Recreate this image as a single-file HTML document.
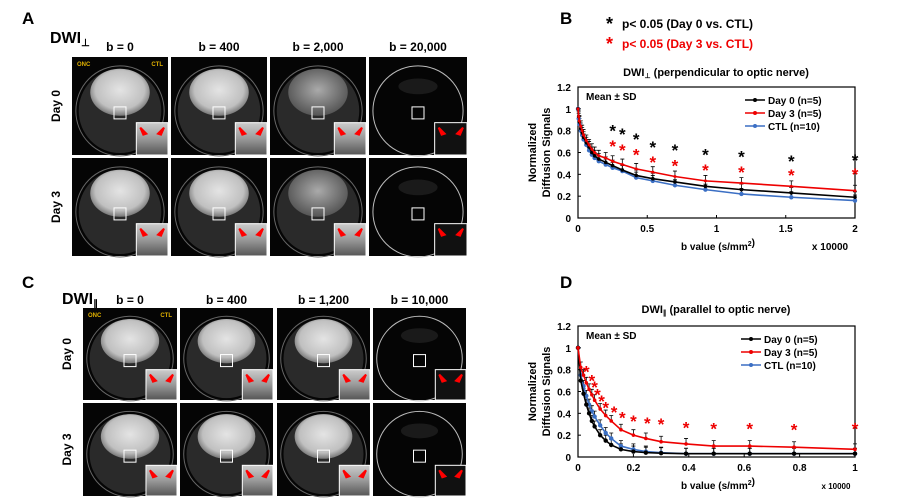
<!DOCTYPE html>
<html><head><meta charset="utf-8"><style>
body{margin:0;background:#fff;}
svg{display:block;font-family:"Liberation Sans",Arial,sans-serif;font-weight:bold;}
</style></head><body>
<svg id="s" width="898" height="498" viewBox="0 0 898 498">
<defs>
<radialGradient id="brain" cx="50%" cy="45%" r="55%"><stop offset="0" stop-color="#e4e4e4"/><stop offset="0.75" stop-color="#c0c0c0"/><stop offset="1" stop-color="#777"/></radialGradient>
<radialGradient id="brainDim" cx="50%" cy="45%" r="55%"><stop offset="0" stop-color="#aaa"/><stop offset="1" stop-color="#555"/></radialGradient>
<linearGradient id="inset" x1="0" y1="0" x2="0" y2="1"><stop offset="0" stop-color="#ccc"/><stop offset="0.5" stop-color="#999"/><stop offset="1" stop-color="#555"/></linearGradient>
</defs>
<g id="texts">
<text x="22" y="24" font-size="17">A</text>
<text x="50" y="43" font-size="16">DWI<tspan font-size="10" dy="3">⊥</tspan></text>
<text x="22" y="288" font-size="17">C</text>
<text x="62" y="304" font-size="16">DWI<tspan font-size="10" dy="3">∥</tspan></text>
<text x="560" y="24" font-size="17">B</text>
<text x="560" y="288" font-size="17">D</text>
<text x="606" y="30" font-size="18">*</text>
<text x="622" y="28" font-size="12">p&lt; 0.05 (Day 0 vs. CTL)</text>
<text x="606" y="50" font-size="18" fill="#e00">*</text>
<text x="622" y="48" font-size="12" fill="#e00">p&lt; 0.05 (Day 3 vs. CTL)</text>
<text x="716" y="76" font-size="11" text-anchor="middle">DWI<tspan font-size="7" dy="2">⊥</tspan><tspan dy="-2"> (perpendicular to optic nerve)</tspan></text>
<text x="716" y="313" font-size="11" text-anchor="middle">DWI<tspan font-size="7" dy="2">∥</tspan><tspan dy="-2"> (parallel to optic nerve)</tspan></text>
</g>
</svg>
<script>
const NS='http://www.w3.org/2000/svg';
const svg=document.getElementById('s');
function mk(tag,attrs,parent){const e=document.createElementNS(NS,tag);for(const k in attrs)e.setAttribute(k,attrs[k]);(parent||svg).appendChild(e);return e;}
function txt(x,y,s,attrs,parent){const e=mk('text',Object.assign({x:x,y:y},attrs||{}),parent);e.textContent=s;return e;}

function grid(cols,rows,bLabels,dayLabelX,labelY,dim){
  rows.forEach((r,ri)=>{
    const t=txt(dayLabelX,(r[0]+r[1])/2,ri?'Day 3':'Day 0',{'font-size':12,'text-anchor':'middle',transform:`rotate(-90 ${dayLabelX} ${(r[0]+r[1])/2})`});
    
    
    cols.forEach((c,ci)=>{
      const g=mk('g',{});
      
      
      const w=c[1]-c[0],h=r[1]-r[0];
      mk('rect',{x:c[0],y:r[0],width:w,height:h,fill:'#050505'},g);
      const cx=c[0]+w/2,cy=r[0]+h*0.55;
      mk('ellipse',{cx:cx,cy:cy,rx:w*0.46,ry:h*0.46,fill:'none',stroke:ci==3?'#bbb':'#666','stroke-width':1},g);
      if(ci<3){
        mk('ellipse',{cx:cx,cy:cy,rx:w*0.43,ry:h*0.43,fill:'#2a2a2a'},g);
        mk('ellipse',{cx:cx,cy:r[0]+h*0.36,rx:w*0.31,ry:h*0.24,fill:ci==2&&dim?'url(#brainDim)':'url(#brain)'},g);
      } else {
        mk('ellipse',{cx:cx,cy:r[0]+h*0.3,rx:w*0.2,ry:h*0.08,fill:'#1a1a1a'},g);
      }
      mk('rect',{x:cx-6,y:cy-4,width:12,height:12,fill:'none',stroke:'#fff','stroke-width':1},g);
      const iw=w*0.33,ih=h*0.33;
      mk('rect',{x:c[1]-iw,y:r[1]-ih,width:iw,height:ih,fill:ci==3?'#111':'url(#inset)',stroke:'#fff','stroke-width':1},g);
      mk('path',{d:`M${c[1]-iw+4} ${r[1]-ih+5} l6 6 l-3 1 z M${c[1]-4} ${r[1]-ih+5} l-6 6 l3 1 z`,fill:'#f00',stroke:'#f00','stroke-width':2},g);
      if(ri==0&&ci==0){txt(c[0]+5,r[0]+9,'ONC',{'font-size':6,fill:'#e0b000'},g);txt(c[1]-5,r[0]+9,'CTL',{'font-size':6,fill:'#e0b000','text-anchor':'end'},g);}
    });
  });
  cols.forEach((c,ci)=>{const t=txt((c[0]+c[1])/2,labelY,bLabels[ci],{'font-size':12,'text-anchor':'middle'});
    
    });
}
grid([[72,168],[171,267],[270,366],[369,467]],[[57,155],[158,256]],['b = 0','b = 400','b = 2,000','b = 20,000'],60,51,true);
grid([[83,177],[180,273],[277,370],[373,466]],[[308,400],[403,496]],['b = 0','b = 400','b = 1,200','b = 10,000'],71,304,false);

const bX=[0,0.005,0.01,0.02,0.03,0.04,0.06,0.08,0.1,0.12,0.15,0.2,0.25,0.32,0.42,0.54,0.7,0.92,1.18,1.54,2];
const bDay0=[1,0.93,0.88,0.82,0.78,0.74,0.69,0.65,0.6,0.57,0.54,0.51,0.48,0.44,0.39,0.36,0.33,0.29,0.26,0.23,0.19];
const bDay3=[1,0.93,0.89,0.84,0.8,0.76,0.71,0.67,0.63,0.6,0.57,0.55,0.52,0.49,0.45,0.42,0.38,0.34,0.32,0.29,0.25];
const bCTL=[1,0.91,0.86,0.8,0.76,0.72,0.67,0.62,0.58,0.55,0.52,0.49,0.46,0.43,0.37,0.34,0.3,0.26,0.22,0.19,0.16];
const bSD=[0.05];
const bStarX=[0.25,0.32,0.42,0.54,0.7,0.92,1.18,1.54,2];
const bStarBlack=[0.82,0.79,0.74,0.67,0.64,0.6,0.58,0.54,0.55];
const bStarRed=[0.68,0.64,0.6,0.53,0.5,0.46,0.44,0.41,0.42];
const bXTicks=['0','0.5','1','1.5','2'];
const yTicks=['0','0.2','0.4','0.6','0.8','1','1.2'];
const dX=[0,0.01,0.02,0.03,0.04,0.05,0.06,0.08,0.1,0.12,0.155,0.2,0.245,0.3,0.39,0.49,0.62,0.78,1.0];
const dDay0=[1,0.7,0.58,0.48,0.4,0.33,0.28,0.2,0.15,0.11,0.07,0.05,0.04,0.035,0.03,0.03,0.03,0.03,0.03];
const dDay3=[1,0.82,0.75,0.68,0.62,0.57,0.52,0.44,0.38,0.33,0.25,0.2,0.17,0.14,0.12,0.1,0.1,0.09,0.07];
const dCTL=[1,0.75,0.65,0.56,0.48,0.42,0.37,0.29,0.22,0.17,0.1,0.07,0.05,0.04,0.03,0.03,0.03,0.03,0.03];
const dSD=[0.05];
const dStarX=[0.03,0.05,0.06,0.07,0.085,0.1,0.13,0.16,0.2,0.25,0.3,0.39,0.49,0.62,0.78,1.0];
const dStarRed=[0.8,0.72,0.66,0.59,0.53,0.47,0.43,0.38,0.35,0.33,0.32,0.29,0.28,0.28,0.27,0.28];
const dXTicks=['0','0.2','0.4','0.6','0.8','1'];

function chart(o){
  const L=578,R=855,T=o.top,B=o.top+131;
  const xs=v=>L+(v/o.xmax)*(R-L), ys=v=>B-(v/1.2)*(B-T);
  const g=mk('g',{});
  
  
  mk('rect',{x:L,y:T,width:R-L,height:B-T,fill:'none',stroke:'#000','stroke-width':1.2},g);
  yTicks.forEach(t=>{const y=ys(+t);mk('line',{x1:L,x2:L+3,y1:y,y2:y,stroke:'#000'},g);
    const e=txt(L-7,y+4,t,{'font-size':10,'text-anchor':'end'},g);
    
    });
  o.xticks.forEach(t=>{const x=xs(+t);mk('line',{x1:x,x2:x,y1:B,y2:B-3,stroke:'#000'},g);
    const e=txt(x,B+14,t,{'font-size':10,'text-anchor':'middle'},g);
    
    });
  const yt=mk('text',{x:0,y:0,'font-size':11,'text-anchor':'middle',transform:`translate(536 ${(T+B)/2}) rotate(-90)`},g);
  
  
  yt.innerHTML='<tspan x="0" dy="0">Normalized</tspan><tspan x="0" dy="14">Diffusion Signals</tspan>';
  const xt=txt(718,B+32,'',{'font-size':10,'text-anchor':'middle'},g);
  
  
  xt.innerHTML='b value (s/mm<tspan font-size="7" dy="-4">2</tspan>)';
  const xm=txt(o.multX,B+32,o.mult,{'font-size':o.multSize,'text-anchor':'middle'},g);
  
  
  const ms=txt(L+8,T+13,'Mean ± SD',{'font-size':10},g);
  
  
  o.series.forEach(s=>{
    s.v.forEach((v,i)=>{if(i==0)return;const x=xs(o.x[i]);
      const eb=mk('path',{d:`M${x} ${ys(v)} V${ys(v+s.sd[0])} M${x-2} ${ys(v+s.sd[0])} H${x+2}`,stroke:'#000','stroke-width':0.8,fill:'none'},g);
      
      });
  });
  o.series.forEach(s=>{
    const p=mk('polyline',{points:s.v.map((v,i)=>xs(o.x[i])+','+ys(v)).join(' '),fill:'none',stroke:s.c,'stroke-width':1.6},g);
    
    
    s.v.forEach((v,i)=>{const c=mk('circle',{cx:xs(o.x[i]),cy:ys(v),r:s.r,fill:s.c},g);
      
      });
  });
  o.stars.forEach(st=>st.y.forEach((v,i)=>{const e=txt(xs(st.x[i]),ys(v)+8,'*',{'font-size':17,'text-anchor':'middle',fill:st.c},g);
    
    }));
  o.legend.forEach((s,i)=>{const y=T+o.legY+i*13;
    const lg=mk('g',{},g);
    
    
    mk('line',{x1:o.legX,x2:o.legX+20,y1:y,y2:y,stroke:s.c,'stroke-width':1.6},lg);
    mk('circle',{cx:o.legX+10,cy:y,r:2,fill:s.c},lg);
    txt(o.legX+23,y+4,s.label,{'font-size':10},lg);});
}
const bS=[{k:'ctl',v:bCTL,sd:bSD,c:'#3b6fc4',r:2.2,label:'CTL (n=10)'},{k:'day0',v:bDay0,sd:bSD,c:'#000',r:1.8,label:'Day 0 (n=5)'},{k:'day3',v:bDay3,sd:bSD,c:'#e00',r:1.5,label:'Day 3 (n=5)'}];
chart({name:'chart-b',top:87,xmax:2,x:bX,xticks:bXTicks,mult:'x 10000',multX:830,multSize:10,legX:745,legY:13,
  series:bS,legend:[bS[1],bS[2],bS[0]],
  stars:[{x:bStarX,y:bStarBlack,c:'#000'},{x:bStarX,y:bStarRed,c:'#e00'}]});
const dS=[{k:'ctl',v:dCTL,sd:dSD,c:'#3b6fc4',r:2.2,label:'CTL (n=10)'},{k:'day0',v:dDay0,sd:dSD,c:'#000',r:2.2,label:'Day 0 (n=5)'},{k:'day3',v:dDay3,sd:dSD,c:'#e00',r:1.8,label:'Day 3 (n=5)'}];
chart({name:'chart-d',top:326,xmax:1,x:dX,xticks:dXTicks,mult:'x 10000',multX:836,multSize:8,legX:741,legY:13,
  series:dS,legend:[dS[1],dS[2],dS[0]],
  stars:[{x:dStarX,y:dStarRed,c:'#e00'}]});
</script>
</body></html>
